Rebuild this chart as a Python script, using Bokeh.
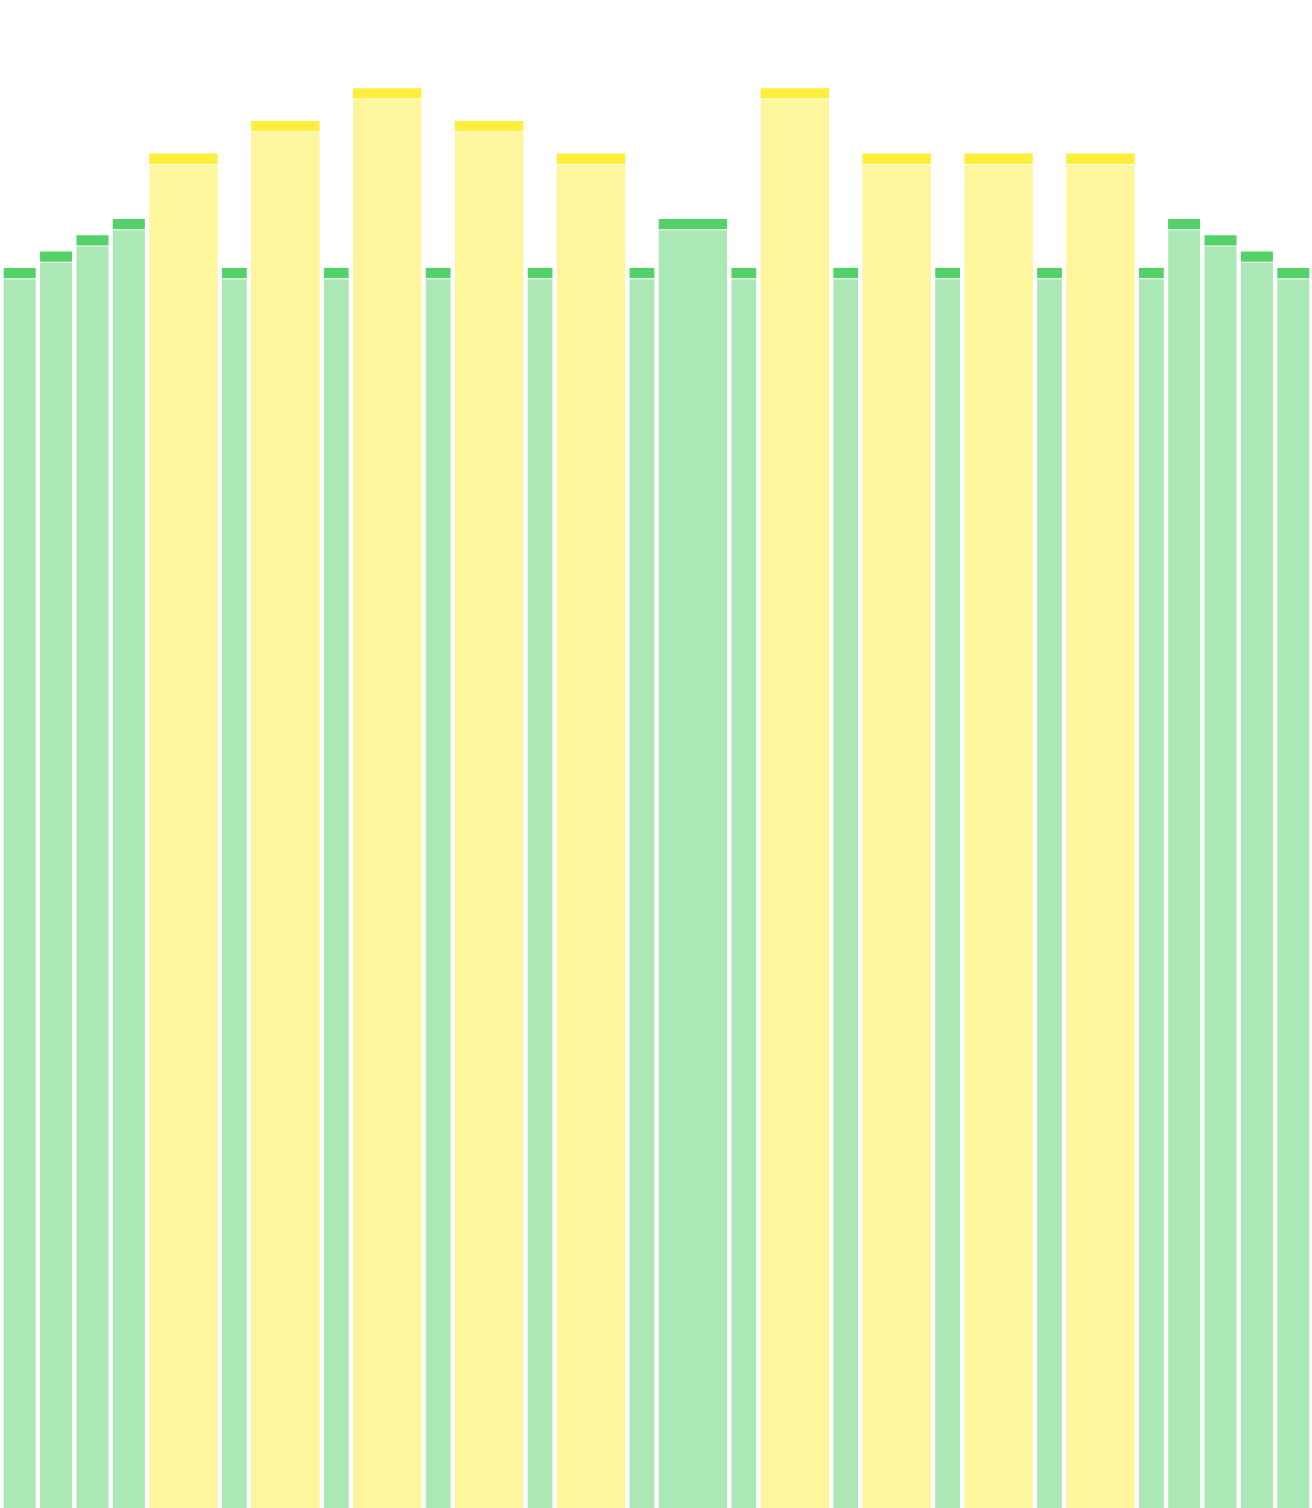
from bokeh.plotting import figure
from bokeh.models import ColumnDataSource, Range1d
from bokeh.embed import file_html
from bokeh.resources import INLINE
import numpy as np

# Data
widths = [1, 1, 1, 1, 2, 0.8, 2, 0.8, 2, 0.8, 2, 0.8, 2, 0.8,
          2, 0.8, 2, 0.8, 2, 0.8, 2, 0.8, 2, 0.8, 1, 1, 1, 1]
values = [76, 77, 78, 79, 83, 76, 85, 76, 87, 76, 85, 76, 83, 76,
          79, 76, 87, 76, 83, 76, 83, 76, 83, 76, 79, 78, 77, 76]
kinds = ["g", "g", "g", "g", "y", "g", "y", "g", "y", "g", "y", "g", "y", "g",
         "g", "g", "y", "g", "y", "g", "y", "g", "y", "g", "g", "g", "g", "g"]

body_colors = {"g": "#abe8b5", "y": "#fef69c"}
cap_colors = {"g": "#55d16a", "y": "#ffee3b"}

w = np.array(widths, dtype=float)
v = np.array(values, dtype=float)
edges = np.concatenate([[0.0], np.cumsum(w)])
pad = 0.06
cap = 0.63
sep = 0.06

src = ColumnDataSource(dict(
    left=edges[:-1] + pad,
    right=edges[1:] - pad,
    top=v,
    cap_bottom=v - cap,
    body_top=v - cap - sep,
    body_color=[body_colors[k] for k in kinds],
    cap_color=[cap_colors[k] for k in kinds],
))

total = float(edges[-1])
p = figure(width=1312, height=1508, output_backend="svg", toolbar_location=None,
           x_range=Range1d(-0.0275, total + 0.0275), y_range=Range1d(0, 92.38),
           min_border=0)
p.quad(left="left", right="right", bottom=0, top="body_top", fill_color="body_color",
       line_color=None, source=src)
p.quad(left="left", right="right", bottom="cap_bottom", top="top", fill_color="cap_color",
       line_color=None, source=src)

p.axis.visible = False
p.xgrid.visible = False
p.ygrid.visible = False
p.outline_line_color = None
p.background_fill_color = "white"
p.border_fill_color = "white"

open("out.html", "w").write(file_html(p, INLINE))
